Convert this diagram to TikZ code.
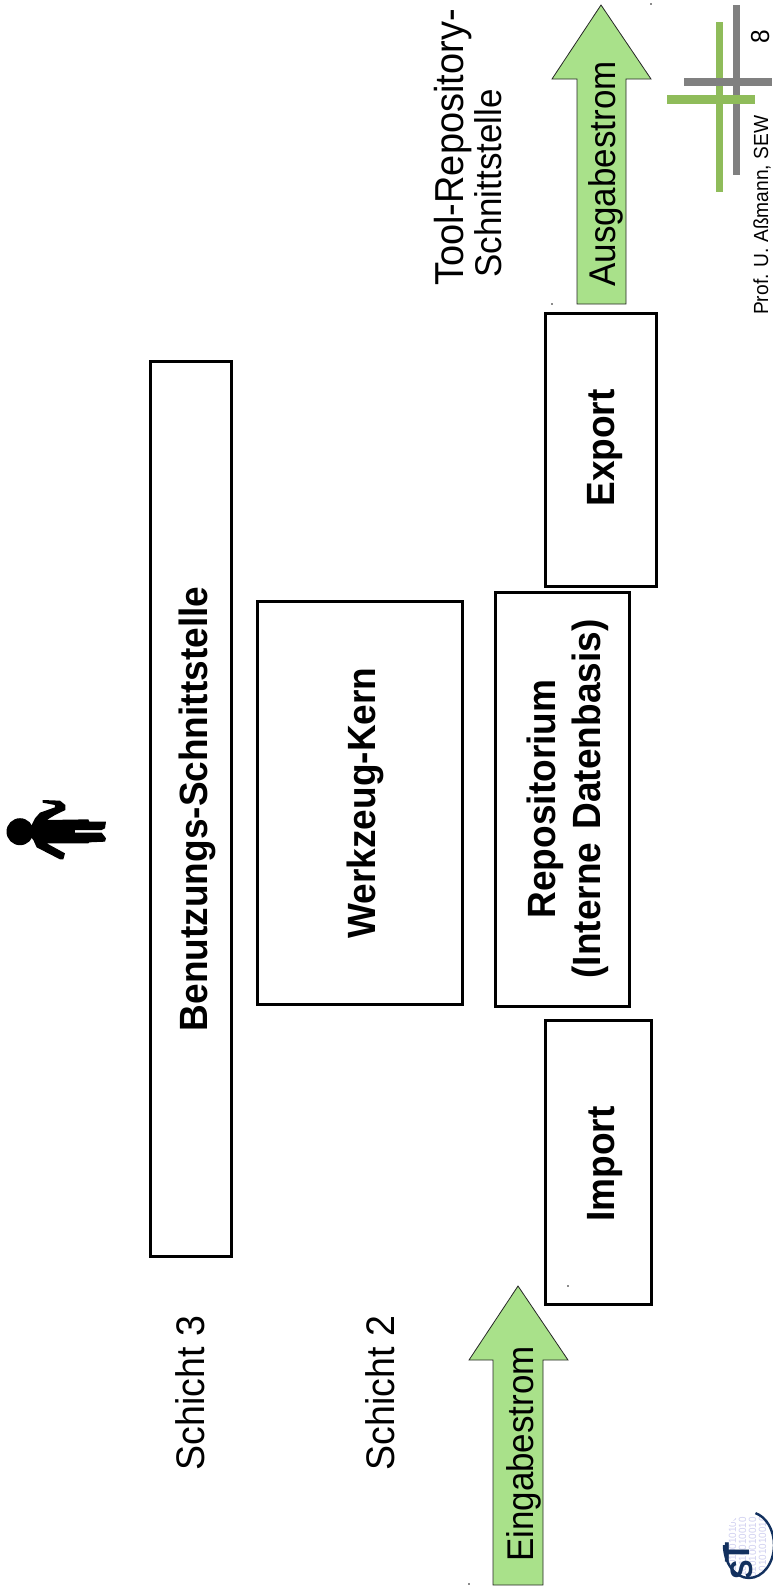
\documentclass[tikz,border=0pt]{standalone}
\usepackage{fontspec}
\setmainfont[FakeStretch=0.94]{Liberation Sans}
\definecolor{arrowgreen}{HTML}{A9E18A}
\definecolor{logogreen}{HTML}{8FBC5A}
\definecolor{logogrey}{HTML}{808080}
\definecolor{stblue}{HTML}{12305E}
\definecolor{binlilac}{HTML}{D0D0F0}
\newcommand{\sz}[2]{\fontsize{#1}{#2}\selectfont}
\tikzset{
  layerbox/.style={draw=black,line width=3pt,fill=white},
  boxlabel/.style={rotate=90,anchor=base,font=\sz{39.4}{45}\bfseries,align=center,inner sep=0pt},
  plainlabel/.style={rotate=90,anchor=base,font=\sz{39.9}{38}\selectfont,align=left,inner sep=0pt},
  flowlabel/.style={rotate=90,anchor=base,font=\sz{37.2}{39}\selectfont,inner sep=0pt},
  flowarrow/.style={draw=black!85,line width=0.8pt,fill=arrowgreen,line join=miter},
  smalllabel/.style={rotate=90,anchor=base west,font=\sz{20.4}{22}\selectfont,inner sep=0pt},
  binary/.style={rotate=90,anchor=base west,font=\sz{10.5}{10}\selectfont,text=binlilac,inner sep=0pt},
  stletter/.style={rotate=90,anchor=base,text=stblue,inner sep=0pt},
  speck/.style={fill=black!45,inner sep=0pt,minimum size=1.2pt,shape=rectangle}
}
\begin{document}
\begin{tikzpicture}[x=1pt,y=-1pt]
\useasboundingbox (0,0) rectangle (773,1588);
% boxes
\draw[layerbox] (150,361) rectangle (231,1256);
\draw[layerbox] (257,601) rectangle (462,1004);
\draw[layerbox] (495,592) rectangle (629,1006);
\draw[layerbox] (545,313) rectangle (656,586);
\draw[layerbox] (545,1020) rectangle (651,1304);
\node[boxlabel] (uit) at (207,809) {Benutzungs-Schnittstelle};
\node[boxlabel] (coret) at (375,803) {Werkzeug-Kern};
\node[boxlabel] (repot) at (600,799) {Repositorium\\(Interne \hspace{3pt}Datenbasis)};
\node[boxlabel] (exportt) at (614,448) {Export};
\node[boxlabel] (importt) at (614,1164) {Import};
% layer labels
\node[plainlabel] (s3) at (204,1393) {Schicht 3};
\node[plainlabel] (s2) at (394,1393) {Schicht 2};
\node[plainlabel,font=\sz{40.4}{38}\selectfont,anchor=base west] (trs) at (501,286) {Tool-Repository-\\[0pt]\hspace*{8pt}\sz{37.2}{38}\selectfont Schnittstelle};
% arrows
\draw[flowarrow] (518,1286) -- (568,1360) -- (543,1360) -- (543,1585) -- (493,1585) -- (493,1360) -- (469,1360) -- cycle;
\draw[flowarrow] (601,5) -- (651,79) -- (626,79) -- (626,304) -- (577,304) -- (577,79) -- (552,79) -- cycle;
\node[flowlabel] (ein) at (533,1454) {Eingabestrom};
\node[flowlabel] (aus) at (615,174) {Ausgabestrom};
% corner specks
\node[speck] (sp1) at (651,4) {};
\node[speck] (sp2) at (552,304) {};
\node[speck] (sp3) at (568,1286) {};
\node[speck] (sp4) at (469,1584) {};
% person
\fill[black] (20,831.7) circle (13.5);
\begin{scope}[shift={(0,760)},x=0.3333pt,y=-0.3333pt]
\fill[black,line join=round] (80,215) -- (95,195) -- (105,175) -- (120,158) -- (165,142) -- (165,135) -- (128,128) -- (128,120) -- (180,122) -- (196,135) -- (196,150) -- (165,165) -- (140,180)
 -- (265,178) -- (268,185) -- (318,185) -- (315,205) -- (305,210) -- (225,210) -- (225,218) -- (305,218) -- (318,235) -- (315,245) -- (268,247) -- (265,250) -- (140,250)
 -- (195,280) -- (190,298) -- (180,298) -- (110,262) -- (100,240) -- (90,228) -- cycle;
\end{scope}
% cross logo
\fill[logogrey] (733,5) rectangle (739.5,175);
\fill[logogreen] (716,22) rectangle (723,192);
\fill[logogrey] (684,78) rectangle (771.5,86);
\fill[logogreen] (667,95) rectangle (755,103.5);
\node[smalllabel] (prof) at (768,315) {Prof. U. Aßmann, SEW};
\node[rotate=90,anchor=base,font=\sz{26}{26}\selectfont,inner sep=0pt] (page) at (769,37) {8};
% ST logo
\begin{scope}
\clip (749,1545) ellipse[x radius=25,y radius=33];
\node[binary] (b1) at (736,1588) {1001010010100};
\node[binary] (b2) at (746,1588) {1010110010010};
\node[binary] (b3) at (756,1588) {1101010010010};
\node[binary] (b4) at (766,1588) {1010101010010};
\end{scope}
\begin{scope}
\clip (720,1500) rectangle (773,1588);
\draw[stblue,line width=2.4pt] (724,1545) arc[start angle=180,end angle=-75,x radius=25,y radius=33];
\end{scope}
\node[stletter,font=\sz{35}{35}\bfseries] (stt) at (749,1552.5) {T};
\node[stletter,font=\sz{31}{31}\bfseries] (sts) at (752,1570) {S};
\end{tikzpicture}
\end{document}
